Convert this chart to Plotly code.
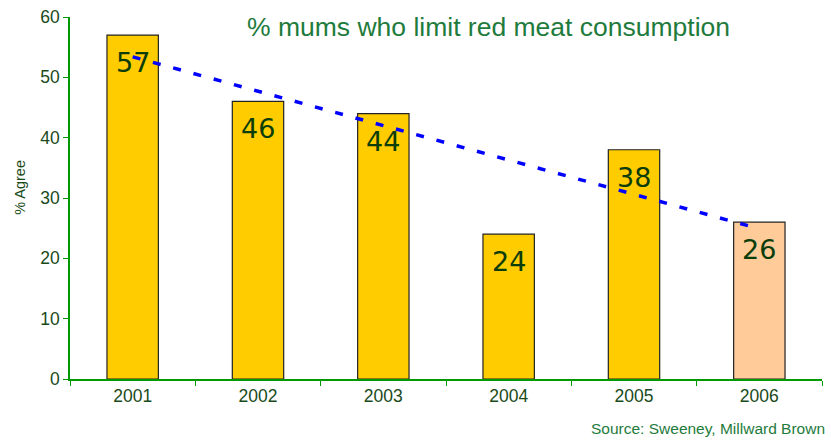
import plotly.graph_objects as go

years = ["2001", "2002", "2003", "2004", "2005", "2006"]
values = [57, 46, 44, 24, 38, 26]
bar_colors = ["#FFCC00", "#FFCC00", "#FFCC00", "#FFCC00", "#FFCC00", "#FFCC99"]
trend_years = ["2001", "2006"]
trend_values = [53.4, 24.9]

fig = go.Figure()
fig.add_trace(go.Bar(
    x=years, y=values, width=0.41,
    marker=dict(color=bar_colors, line=dict(color="#222222", width=1.2)),
    showlegend=False, hoverinfo="skip",
))
fig.add_trace(go.Scatter(
    x=trend_years, y=trend_values, mode="lines",
    line=dict(color="#0000FF", width=3.5, dash="8px,13px"),
    showlegend=False, hoverinfo="skip",
))
for i, v in enumerate(values):
    fig.add_annotation(x=i, y=v, xref="x", yref="y", text=str(v), showarrow=False,
                       yanchor="top", yshift=-10,
                       font=dict(family="DejaVu Sans", size=27, color="#0B3D0B"))

fig.add_annotation(text="% mums who limit red meat consumption", xref="paper", yref="paper",
                   x=0.557, y=1.0, xanchor="center", yanchor="middle", yshift=-10, showarrow=False,
                   font=dict(family="Liberation Sans", size=26.5, color="#1E7B3C"))
fig.add_annotation(text="Source: Sweeney, Millward Brown", xref="paper", yref="paper",
                   x=1.0, y=0, xanchor="right", yanchor="middle", yshift=-49, xshift=5, showarrow=False,
                   font=dict(family="Liberation Sans", size=15.5, color="#1E7B3C"))
fig.add_annotation(text="% Agree", xref="paper", yref="paper", textangle=-90,
                   x=0, y=0.528, xanchor="center", yanchor="middle", xshift=-50, showarrow=False,
                   font=dict(family="Liberation Sans", size=14.5, color="#1A4A1A"))

fig.update_layout(
    width=831, height=441,
    margin=dict(l=70, r=9, t=17, b=62),
    plot_bgcolor="white", paper_bgcolor="white",
    xaxis=dict(type="category", showline=True, linecolor="#009900", linewidth=1.5, ticks="outside",
               tickson="boundaries", ticklen=5, tickcolor="#009900", automargin=False,
               ticklabeloverflow="allow",
               tickfont=dict(family="Liberation Sans", size=17.5, color="#1A4A1A"),
               showgrid=False, zeroline=False, range=[-0.5, 5.5]),
    yaxis=dict(range=[0, 60], dtick=10, showline=True, linecolor="#009900", linewidth=1.5,
               ticks="outside", ticklen=5, tickcolor="#009900", showgrid=False, zeroline=False,
               automargin=False, ticklabeloverflow="allow",
               tickfont=dict(family="Liberation Sans", size=17.5, color="#1A4A1A")),
)

fig.write_html("out.html", config={"displayModeBar": False},
               post_script="document.body.style.margin='0';document.body.style.overflow='hidden';")
